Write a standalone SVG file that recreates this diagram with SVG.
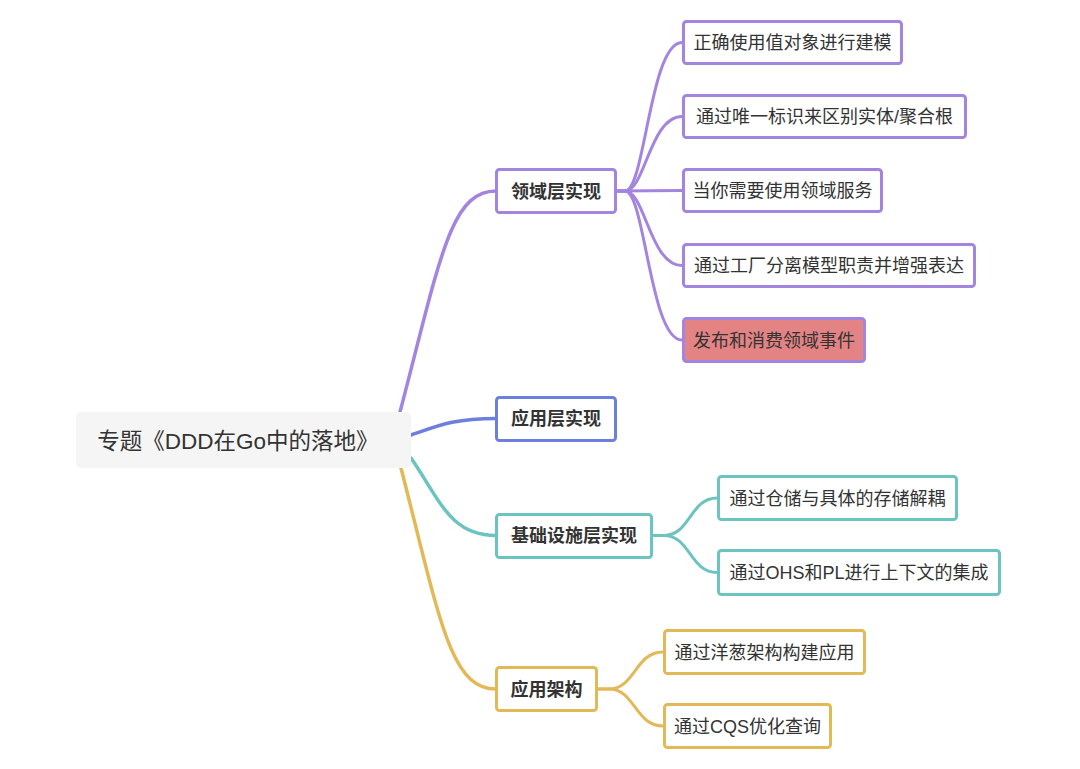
<svg xmlns="http://www.w3.org/2000/svg" width="1080" height="769" viewBox="0 0 1080 769">
<style>
  .bg{fill:#ffffff}
  .t{font-family:"Liberation Sans","Noto Sans CJK SC",sans-serif;fill:#333333;text-anchor:middle}
  .t2{font-size:18px}
  .t1{font-size:18px;font-weight:bold}
  .t0{font-size:22.5px}
  .box{fill:#ffffff;stroke-width:3}
  .p{stroke:#a385e0}
  .b{stroke:#6d7fdd}
  .g{stroke:#6cc4c1}
  .y{stroke:#e2b956}
  .c{fill:none;stroke-width:3.5;stroke-linecap:round}
  .c2{fill:none;stroke-width:3;stroke-linecap:round}
</style>
<rect class="bg" x="0" y="0" width="1080" height="769"/>
<g id="connectors">
  <path class="c p" d="M400,412 C440,260 450,191 496,191"/>
  <path class="c b" d="M411,435 C440,425 455,418.5 496,418.5"/>
  <path class="c g" d="M411,458 C440,500 450,535.5 496,535.5"/>
  <path class="c y" d="M401,468 C440,620 450,689 496,689"/>
  <path class="c2 p" d="M617,191 L625,191 C645,191 650,42.5 682,42.5"/>
  <path class="c2 p" d="M617,191 L625,191 C645,191 650,116.5 682,116.5"/>
  <path class="c2 p" d="M617,191 L682,190.5"/>
  <path class="c2 p" d="M617,191 L625,191 C645,191 650,265.5 682,265.5"/>
  <path class="c2 p" d="M617,191 L625,191 C645,191 650,340 682,340"/>
  <path class="c2 g" d="M653,535.5 L664,535.5 C690,535.5 690,498 717,498"/>
  <path class="c2 g" d="M653,535.5 L664,535.5 C690,535.5 690,572.5 717,572.5"/>
  <path class="c2 y" d="M598,689 L609,689 C635,689 635,652 663,652"/>
  <path class="c2 y" d="M598,689 L609,689 C635,689 635,726 663,726"/>
</g>
<g id="root">
  <rect x="76" y="412" width="335" height="56" rx="5" fill="#f5f5f5"/>
  <text class="t t0" x="238" y="448.5">专题《DDD在Go中的落地》</text>
</g>
<g id="n-domain">
  <rect class="box p" x="496.5" y="169.5" width="119" height="43" rx="3"/>
  <text class="t t1" x="556" y="197.5">领域层实现</text>
</g>
<g id="n-app">
  <rect class="box b" x="496.5" y="397.5" width="119" height="43" rx="3"/>
  <text class="t t1" x="556" y="425">应用层实现</text>
</g>
<g id="n-infra">
  <rect class="box g" x="496.5" y="514.5" width="155" height="43" rx="3"/>
  <text class="t t1" x="574" y="542">基础设施层实现</text>
</g>
<g id="n-arch">
  <rect class="box y" x="496.5" y="667.5" width="100" height="43" rx="3"/>
  <text class="t t1" x="546.5" y="695.5">应用架构</text>
</g>
<g id="n-d1">
  <rect class="box p" x="683.5" y="21.5" width="218" height="42" rx="3"/>
  <text class="t t2" x="792.5" y="49">正确使用值对象进行建模</text>
</g>
<g id="n-d2">
  <rect class="box p" x="683.5" y="95.5" width="282" height="42" rx="3"/>
  <text class="t t2" x="824.5" y="123">通过唯一标识来区别实体/聚合根</text>
</g>
<g id="n-d3">
  <rect class="box p" x="683.5" y="169.5" width="198" height="42" rx="3"/>
  <text class="t t2" x="782.5" y="197">当你需要使用领域服务</text>
</g>
<g id="n-d4">
  <rect class="box p" x="683.5" y="244.5" width="291" height="42" rx="3"/>
  <text class="t t2" x="829" y="272">通过工厂分离模型职责并增强表达</text>
</g>
<g id="n-d5">
  <rect class="box p" x="683.5" y="318.5" width="181" height="43" rx="3" style="fill:#e38383"/>
  <text class="t t2" x="774" y="346.5">发布和消费领域事件</text>
</g>
<g id="n-i1">
  <rect class="box g" x="718.5" y="476.5" width="238" height="43" rx="3"/>
  <text class="t t2" x="837.5" y="504.5">通过仓储与具体的存储解耦</text>
</g>
<g id="n-i2">
  <rect class="box g" x="718.5" y="550.5" width="281" height="44" rx="3"/>
  <text class="t t2" x="859" y="579">通过OHS和PL进行上下文的集成</text>
</g>
<g id="n-a1">
  <rect class="box y" x="664.5" y="630.5" width="200" height="43" rx="3"/>
  <text class="t t2" x="764.5" y="658.5">通过洋葱架构构建应用</text>
</g>
<g id="n-a2">
  <rect class="box y" x="664.5" y="704.5" width="166" height="43" rx="3"/>
  <text class="t t2" x="747.5" y="732.5">通过CQS优化查询</text>
</g>
</svg>
